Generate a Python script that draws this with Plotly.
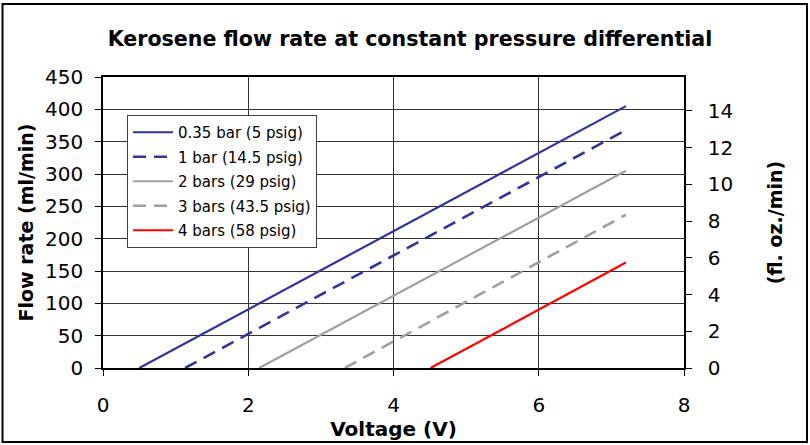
import plotly.graph_objects as go

# ---- data ----
series_names = ["0.35 bar (5 psig)", "1 bar (14.5 psig)", "2 bars (29 psig)",
                "3 bars (43.5 psig)", "4 bars (58 psig)"]
voltage_035 = [0.50, 7.2]
flow_035 = [0, 405]
voltage_1 = [1.13, 7.2]
flow_1 = [0, 368]
voltage_2 = [2.15, 7.2]
flow_2 = [0, 305]
voltage_3 = [3.33, 7.2]
flow_3 = [0, 237]
voltage_4 = [4.51, 7.2]
flow_4 = [0, 163]

x_ticks = [0, 2, 4, 6, 8]
y_ticks = [0, 50, 100, 150, 200, 250, 300, 350, 400, 450]
y2_ticks = [0, 2, 4, 6, 8, 10, 12, 14]

# ---- styling ----
FONT = "DejaVu Sans, Liberation Sans, Arial, sans-serif"
BLUE = "#333399"
GRAY = "#A0A0A0"
RED = "#FF0000"
DASH = "13px,8px"

W, H = 810, 445
ML, MR, MT, MB = 103, 126, 77, 77
pw = W - ML - MR
ph = H - MT - MB


def px_x(p):
    return (p - ML) / pw


def px_y(p):
    return (H - MB - p) / ph


fig = go.Figure()
styles = [
    (voltage_035, flow_035, BLUE, "solid", 2.2),
    (voltage_1, flow_1, BLUE, DASH, 2.6),
    (voltage_2, flow_2, GRAY, "solid", 2.2),
    (voltage_3, flow_3, GRAY, DASH, 2.6),
    (voltage_4, flow_4, RED, "solid", 2.2),
]
for name, (vx, fy, col, dash, w) in zip(series_names, styles):
    fig.add_trace(go.Scatter(x=vx, y=fy, mode="lines", name=name,
                             legendgroup=name,
                             line=dict(color=col, dash=dash, width=w)))

# invisible trace to anchor the right axis
fig.add_trace(go.Scatter(x=[0], y=[0], yaxis="y2", mode="markers",
                         marker=dict(opacity=0), showlegend=False,
                         hoverinfo="skip"))

fig.update_layout(
    width=W, height=H,
    margin=dict(l=ML, r=MR, t=MT, b=MB),
    paper_bgcolor="white", plot_bgcolor="white",
    font=dict(family=FONT, color="black", size=20),
    title=dict(text="<b>Kerosene flow rate at constant pressure differential</b>",
               x=410 / W, xanchor="center",
               y=1 - 39 / H, yanchor="middle",
               font=dict(family=FONT, size=20.6, color="black")),
    xaxis=dict(range=[0, 8], tickvals=x_ticks, ticks="outside", ticklen=6,
               tickcolor="black", showline=True, linecolor="black", linewidth=1.5,
               mirror=True, showgrid=True, gridcolor="#333333", gridwidth=1,
               zeroline=False, ticklabelstandoff=12,
               tickfont=dict(size=20),
               title=dict(text="<b>Voltage (V)</b>", font=dict(size=20), standoff=2)),
    yaxis=dict(range=[0, 450], tickvals=y_ticks, ticks="outside", ticklen=6,
               tickcolor="black", showline=True, linecolor="black", linewidth=1.5,
               showgrid=True, gridcolor="#333333", gridwidth=1, zeroline=False,
               ticklabelstandoff=8, tickfont=dict(size=20),
               title=dict(text="<b>Flow rate (ml/min)</b>", font=dict(size=19), standoff=6)),
    yaxis2=dict(overlaying="y", side="right", range=[0, 15.85], tickvals=y2_ticks,
                ticks="outside", ticklen=6, tickcolor="black", showline=True,
                linecolor="black", linewidth=1.5, showgrid=False, zeroline=False,
                ticklabelstandoff=12, tickfont=dict(size=20),
                title=dict(text="<b>(fl. oz./min)</b>", font=dict(size=19), standoff=36)),
    legend=dict(x=px_x(127), y=px_y(115), xanchor="left", yanchor="top",
                bgcolor="white", bordercolor="#404040", borderwidth=1,
                font=dict(family=FONT, size=15, color="black"),
                tracegroupgap=2, itemwidth=40),
    showlegend=True,
)

# outer chart border
fig.add_shape(type="rect", xref="paper", yref="paper",
              x0=px_x(2.5), x1=px_x(807),
              y0=px_y(442), y1=px_y(4),
              line=dict(color="black", width=2), fillcolor="rgba(0,0,0,0)",
              layer="below")

fig.write_html("out.html", config={"displayModeBar": False},
               post_script="document.body.style.margin='0';")
